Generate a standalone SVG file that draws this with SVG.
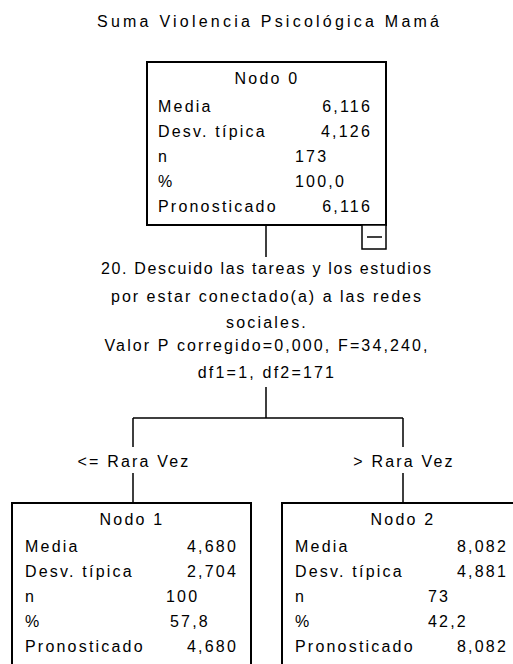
<svg xmlns="http://www.w3.org/2000/svg" width="513" height="664" viewBox="0 0 513 664">
<style>
text{font-family:"Liberation Sans",Arial,sans-serif;font-size:16px;letter-spacing:2.2px;fill:#000}
.c{text-anchor:middle}
.e{text-anchor:end}
.t{letter-spacing:0}
.box{fill:#fff;stroke:#000;stroke-width:2}
.ln{stroke:#000;stroke-width:1.5;fill:none}
</style>
<rect width="513" height="664" fill="#fff"/>
<text class="c t" x="268" y="27" textLength="342" lengthAdjust="spacing">Suma Violencia Psicológica Mamá</text>
<g id="connectors">
<path class="ln" d="M266,225V257M266,387V418M133,418H403M133,418V447M133,473V503M403,418V447M403,473V503"/>
<text class="c" x="134" y="467">&lt;= Rara Vez</text>
<text class="c" x="404" y="467">&gt; Rara Vez</text>
</g>
<g id="split">
<text class="c t" x="266" y="274" textLength="330" lengthAdjust="spacing">20. Descuido las tareas y los estudios</text>
<text class="c t" x="266" y="302" textLength="310" lengthAdjust="spacing">por estar conectado(a) a las redes</text>
<text class="c" x="267" y="328">sociales.</text>
<text class="c t" x="266" y="351" textLength="323" lengthAdjust="spacing">Valor P corregido=0,000, F=34,240,</text>
<text class="c" x="267" y="378">df1=1, df2=171</text>
</g>
<g id="node0">
<rect class="box" x="147" y="62" width="239" height="163"/>
<rect class="box" x="362" y="225" width="24" height="24" style="stroke-width:1.5"/>
<path class="ln" d="M367,237H382"/>
<text class="c" x="267" y="84">Nodo 0</text>
<text x="158" y="112">Media</text><text class="e" x="372" y="112">6,116</text>
<text x="158" y="137">Desv. típica</text><text class="e" x="372" y="137">4,126</text>
<text x="158" y="162">n</text><text x="295" y="162">173</text>
<text x="158" y="187">%</text><text x="295" y="187">100,0</text>
<text x="158" y="212">Pronosticado</text><text class="e" x="372" y="212">6,116</text>
</g>
<g id="node1">
<rect class="box" x="12" y="503" width="239" height="180"/>
<text class="c" x="132" y="525">Nodo 1</text>
<text x="25" y="552">Media</text><text class="e" x="238" y="552">4,680</text>
<text x="25" y="577">Desv. típica</text><text class="e" x="238" y="577">2,704</text>
<text x="25" y="602">n</text><text x="166" y="602">100</text>
<text x="25" y="627">%</text><text x="170" y="627">57,8</text>
<text x="25" y="652">Pronosticado</text><text class="e" x="238" y="652">4,680</text>
</g>
<g id="node2">
<rect class="box" x="282" y="503" width="239" height="180"/>
<text class="c" x="403" y="525">Nodo 2</text>
<text x="295" y="552">Media</text><text class="e" x="508" y="552">8,082</text>
<text x="295" y="577">Desv. típica</text><text class="e" x="508" y="577">4,881</text>
<text x="295" y="602">n</text><text x="428" y="602">73</text>
<text x="295" y="627">%</text><text x="428" y="627">42,2</text>
<text x="295" y="652">Pronosticado</text><text class="e" x="508" y="652">8,082</text>
</g>
</svg>
